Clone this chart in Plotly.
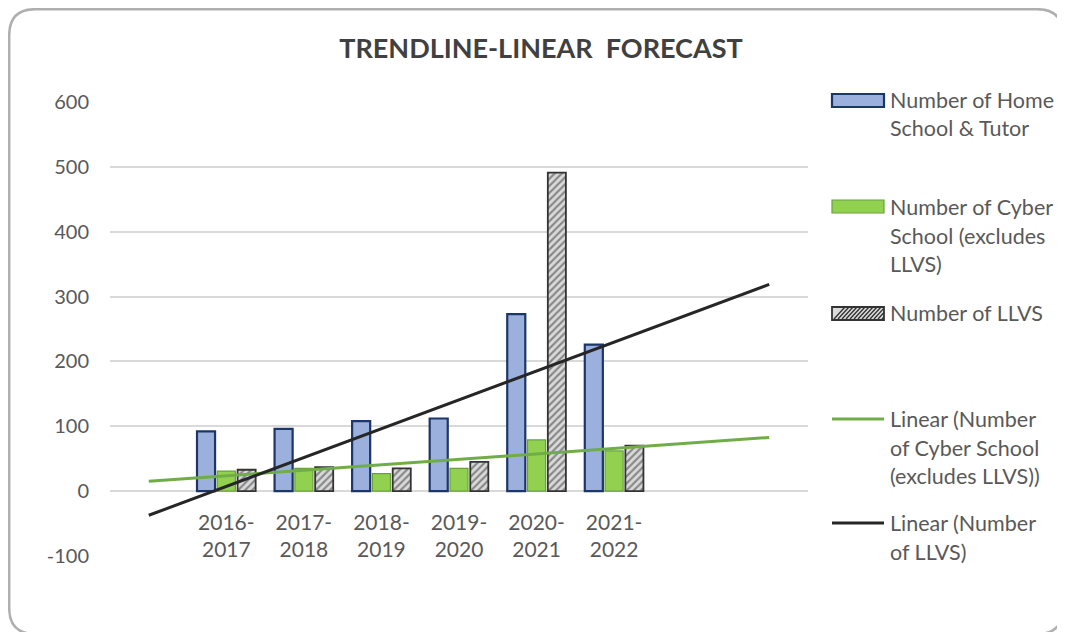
import numpy as np
import plotly.graph_objects as go

# ---------------- data ----------------
categories = ["2016-2017", "2017-2018", "2018-2019", "2019-2020", "2020-2021", "2021-2022"]
home_tutor = [92, 96, 108, 112, 273, 226]
cyber = [31, 35, 27, 35, 79, 62]
llvs = [33, 37, 35, 45, 491, 70]

series_names = [
    "Number of Home School & Tutor",
    "Number of Cyber School (excludes LLVS)",
    "Number of LLVS",
    "Linear (Number of Cyber School (excludes LLVS))",
    "Linear (Number of LLVS)",
]
legend_lines = [
    ["Number of Home", "School & Tutor"],
    ["Number of Cyber", "School (excludes", "LLVS)"],
    ["Number of LLVS"],
    ["Linear (Number", "of Cyber School", "(excludes LLVS))"],
    ["Linear (Number", "of LLVS)"],
]
y_ticks = [-100, 0, 100, 200, 300, 400, 500, 600]
y_tick_text = ["-100", "0", "100", "200", "300", "400", "500", "600"]
backward_periods = 1
forward_periods = 2

# ---------------- geometry helpers ----------------
OFF = 8                      # page body margin offset
W, H = 1065 - OFF, 632 - OFF
# plot area in reference (screen) pixels
SL, SR, ST, SB = 110, 808, 102, 556


def px_x(px):
    return (px - SL) / (SR - SL)


def px_y(py):
    return (SB - py) / (SB - ST)


FONT = "Lato, 'Open Sans', sans-serif"
TXT = "#595959"

xpos = list(range(1, len(categories) + 1))
tick_text = [c.replace("-", "-<br>") for c in categories]

fig = go.Figure()

fig.add_trace(go.Bar(
    x=xpos, y=home_tutor, name=series_names[0],
    marker=dict(color="#9CB0DE", line=dict(color="#1C3668", width=2.2)),
    showlegend=False,
))
fig.add_trace(go.Bar(
    x=xpos, y=cyber, name=series_names[1],
    marker=dict(color="#92D050", line=dict(color="#6AA03C", width=1.2)),
    showlegend=False,
))
fig.add_trace(go.Bar(
    x=xpos, y=llvs, name=series_names[2],
    marker=dict(color="#D9D9D9", line=dict(color="#333333", width=1.8),
                pattern=dict(shape="/", fgcolor="#333333", bgcolor="#DADADA",
                             size=5, solidity=0.42)),
    showlegend=False,
))

# linear trendlines (least squares on the series, with forecast periods)
xs = np.array(xpos, dtype=float)
x_ext = np.array([xs[0] - backward_periods, xs[-1] + forward_periods])
for vals, color, name in [(cyber, "#70AD47", series_names[3]),
                          (llvs, "#262626", series_names[4])]:
    m, b = np.polyfit(xs, np.array(vals, dtype=float), 1)
    fig.add_trace(go.Scatter(
        x=x_ext, y=m * x_ext + b, mode="lines", name=name,
        line=dict(color=color, width=3), showlegend=False,
    ))

# ---------------- custom legend ----------------
shapes = []
annotations = []
sw_x0, sw_x1 = px_x(832), px_x(884)
swatch_y = [100, 207, 313, 419, 523]
shapes.append(dict(type="rect", xref="paper", yref="paper",
                   x0=sw_x0, x1=sw_x1, y0=px_y(107), y1=px_y(94),
                   fillcolor="#9CB0DE", line=dict(color="#1C3668", width=2.2)))
shapes.append(dict(type="rect", xref="paper", yref="paper",
                   x0=sw_x0, x1=sw_x1, y0=px_y(213), y1=px_y(200),
                   fillcolor="#92D050", line=dict(color="#6AA03C", width=1.2)))
shapes.append(dict(type="rect", xref="paper", yref="paper",
                   x0=sw_x0, x1=sw_x1, y0=px_y(320), y1=px_y(307),
                   fillcolor="#DADADA", line=dict(color="#333333", width=1.8)))
hatch = []
for k in range(834, 884, 4):
    a = k
    b_ = min(k + 11, 884)
    hatch.append(f"M{px_x(a)},{px_y(319)} L{px_x(b_)},{px_y(319 - (b_ - a) * 12 / 11)}")
shapes.append(dict(type="path", xref="paper", yref="paper", path=" ".join(hatch),
                   line=dict(color="#333333", width=1.3)))
shapes.append(dict(type="line", xref="paper", yref="paper",
                   x0=sw_x0, x1=sw_x1, y0=px_y(419), y1=px_y(419),
                   line=dict(color="#70AD47", width=3)))
shapes.append(dict(type="line", xref="paper", yref="paper",
                   x0=sw_x0, x1=sw_x1, y0=px_y(523), y1=px_y(523),
                   line=dict(color="#262626", width=3)))

line_gap = 28.5
for lines, y0 in zip(legend_lines, swatch_y):
    for i, t in enumerate(lines):
        annotations.append(dict(
            text=t, xref="paper", yref="paper", x=px_x(888), y=px_y(y0 + i * line_gap),
            xanchor="left", yanchor="middle", showarrow=False,
            font=dict(family=FONT, size=21.5, color=TXT),
        ))

# rounded chart border (screen coordinates)
bx0, by0, bx1, by1, r = 9.2, 9.2, 1063, 634, 26
path = (f"M{px_x(bx0 + r)},{px_y(by0)} L{px_x(bx1 - r)},{px_y(by0)} "
        f"Q{px_x(bx1)},{px_y(by0)} {px_x(bx1)},{px_y(by0 + r)} "
        f"L{px_x(bx1)},{px_y(by1 - r)} Q{px_x(bx1)},{px_y(by1)} {px_x(bx1 - r)},{px_y(by1)} "
        f"L{px_x(bx0 + r)},{px_y(by1)} Q{px_x(bx0)},{px_y(by1)} {px_x(bx0)},{px_y(by1 - r)} "
        f"L{px_x(bx0)},{px_y(by0 + r)} Q{px_x(bx0)},{px_y(by0)} {px_x(bx0 + r)},{px_y(by0)} Z")
shapes.append(dict(type="path", xref="paper", yref="paper", path=path,
                   line=dict(color="#AFAFAF", width=2.5), layer="above"))

fig.update_layout(
    width=W, height=H,
    margin=dict(l=SL - OFF, r=W - (SR - OFF), t=ST - OFF, b=H - (SB - OFF)),
    paper_bgcolor="white", plot_bgcolor="white",
    barmode="group", bargap=0.215, bargroupgap=0.11,
    title=dict(text="TRENDLINE-LINEAR\u00a0 FORECAST", xref="container", yref="container",
               x=(541 - OFF) / W, y=1 - (49 - OFF) / H, xanchor="center", yanchor="middle",
               font=dict(family=FONT, size=27, color="#404040", weight="bold")),
    xaxis=dict(range=[-0.5, 8.5], tickmode="array", tickvals=xpos, ticktext=tick_text,
               showgrid=False, zeroline=False, showline=False, ticks="",
               anchor="free", position=1 / 7, ticklabelstandoff=17,
               tickfont=dict(family=FONT, size=21, color=TXT)),
    yaxis=dict(range=[-100, 600], tickmode="array", tickvals=y_ticks, ticktext=y_tick_text,
               showgrid=True, gridcolor="#D9D9D9", gridwidth=1.5,
               zeroline=False, showline=False,
               ticks="", ticklabelstandoff=20,
               tickfont=dict(family=FONT, size=20, color=TXT)),
    shapes=shapes, annotations=annotations,
)

fig.write_html("out.html")
